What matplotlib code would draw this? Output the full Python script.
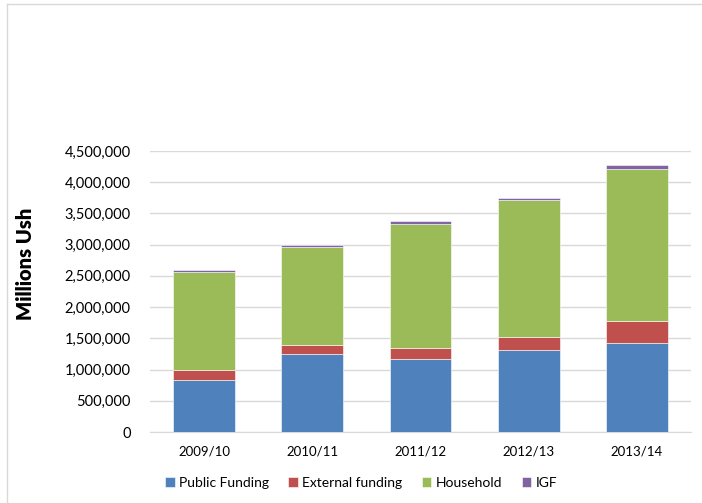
import matplotlib.pyplot as plt
from matplotlib.lines import Line2D
from matplotlib.ticker import FuncFormatter

plt.rcParams["font.family"] = ["Lato", "DejaVu Sans"]

YEARS = ["2009/10", "2010/11", "2011/12", "2012/13", "2013/14"]
PUBLIC = [833000, 1245000, 1165000, 1309000, 1431000]
EXTERNAL = [160000, 144000, 186000, 218000, 343000]
HOUSEHOLD = [1566000, 1571000, 1977000, 2186000, 2441000]
IGF = [37000, 42000, 48000, 42000, 53000]

SERIES = [
    ("Public Funding", PUBLIC, "#4F81BD"),
    ("External funding", EXTERNAL, "#C0504D"),
    ("Household", HOUSEHOLD, "#9BBB59"),
    ("IGF", IGF, "#8064A2"),
]

W, H = 702, 503
fig = plt.figure(figsize=(W / 100, H / 100), dpi=100)
ax = fig.add_axes([150 / W, 1 - 432 / H, 541 / W, 281 / H])

x = range(len(YEARS))
bottom = [0] * len(YEARS)
for name, vals, color in SERIES:
    ax.bar(x, vals, width=0.57, bottom=bottom, color=color, label=name,
           edgecolor="white", linewidth=0.4, zorder=3)
    bottom = [b + v for b, v in zip(bottom, vals)]

ax.set_xlim(-0.5, len(YEARS) - 0.5)
ax.set_ylim(0, 4500000)
ax.set_yticks(range(0, 4500001, 500000))
ax.yaxis.set_major_formatter(FuncFormatter(lambda v, p: f"{int(v):,}"))
ax.set_xticks(list(x))
ax.set_xticklabels(YEARS, fontsize=9.5)
ax.tick_params(axis="y", labelsize=10.5, length=0, pad=14)
ax.tick_params(axis="x", length=0, pad=10)
ax.grid(axis="y", color="#D9D9D9", linewidth=1, zorder=0)
for side in ["top", "right", "left"]:
    ax.spines[side].set_visible(False)
ax.spines["bottom"].set_color("#D9D9D9")

ax.set_ylabel("Millions Ush", fontsize=14.5, fontweight="heavy")
ax.yaxis.set_label_coords(-0.212, 0.60)

ax.legend(loc="center", bbox_to_anchor=(0.39, -0.18), ncol=4, frameon=False,
          fontsize=10, handlelength=0.7, handleheight=0.7, handletextpad=0.3,
          columnspacing=1.4)

# light border around chart area
fig.add_artist(Line2D([7 / W, 7 / W], [0, 1 - 4 / H], color="#D9D9D9", linewidth=1))
fig.add_artist(Line2D([7 / W, 1], [1 - 4 / H, 1 - 4 / H], color="#D9D9D9", linewidth=1))

fig.savefig("out.png", dpi=100)
